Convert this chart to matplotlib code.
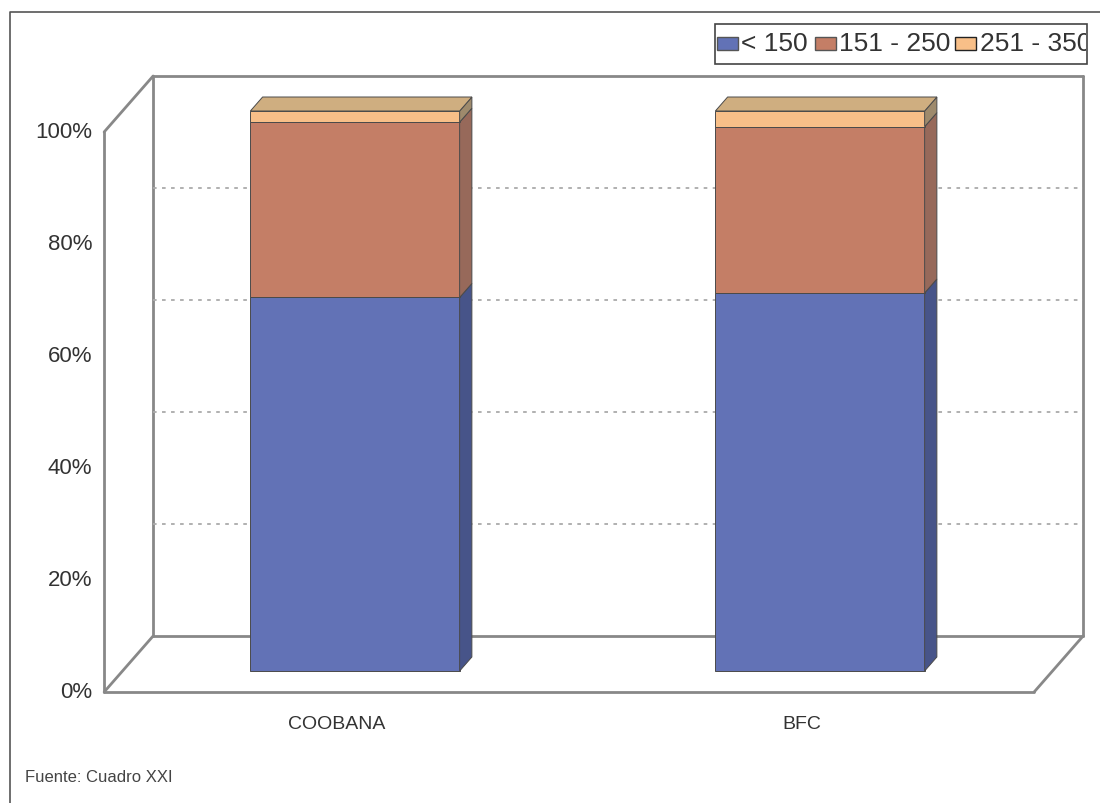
import matplotlib
matplotlib.use("Agg")
import matplotlib.pyplot as plt
from matplotlib.patches import Polygon, Rectangle
from matplotlib.transforms import Bbox, TransformedBbox

plt.rcParams['font.family'] = ['Liberation Sans', 'DejaVu Sans']

# data (percent of each category)
categories = ["COOBANA", "BFC"]
series_names = ["< 150", "151 - 250", "251 - 350"]
lt_150 = [66.7, 67.5]
r151_250 = [31.3, 29.7]
r251_350 = [2.0, 2.8]
y_ticks = [0, 20, 40, 60, 80, 100]
y_tick_labels = ["0%", "20%", "40%", "60%", "80%", "100%"]
source_note = "Fuente: Cuadro XXI"

series = [lt_150, r151_250, r251_350]
front_cols = ["#6272b6", "#c47e66", "#f8bf88"]
side_cols = ["#475489", "#97695a", "#9e8a6c"]
top_cols = ["#7d8cc8", "#d49b85", "#cfae80"]
line_col = "#888888"

# 3d look: bar plane sits at depth 0.375..0.625 of the floor
DX = 49 / 465.0   # x shift of a full depth, in category units
DY = 10.0         # y shift of a full depth, in percent units
BAR_D0, BAR_D1 = 0.375, 0.625
bar_w = 0.45


def proj(x, v, depth):
    return x + (depth - BAR_D0) * DX, v + (depth - BAR_D0) * DY


fig = plt.figure(figsize=(11, 8.04), dpi=100)
ax = fig.add_axes([0, 0, 1, 1])
ax.set_xlim(-355 / 465.0, 745 / 465.0)
ax.set_ylim((672 - 804) / 5.6, 672 / 5.6)
ax.axis('off')

# walls and floor
xl, xr = -0.5, len(categories) - 0.5
edges = [
    [(xl, 0, 0), (xl, 100, 0)],
    [(xl, 100, 0), (xl, 100, 1)],
    [(xl, 0, 0), (xl, 0, 1)],
    [(xl, 0, 1), (xl, 100, 1)],
    [(xl, 100, 1), (xr, 100, 1)],
    [(xr, 0, 1), (xr, 100, 1)],
    [(xl, 0, 1), (xr, 0, 1)],
    [(xl, 0, 0), (xr, 0, 0)],
    [(xr, 0, 0), (xr, 0, 1)],
]
for a, b in edges:
    pa, pb = proj(*a), proj(*b)
    ax.plot([pa[0], pb[0]], [pa[1], pb[1]], color=line_col, lw=2, zorder=1,
            solid_capstyle='round')

for t in y_ticks[1:-1]:
    pa, pb = proj(xl, t, 1), proj(xr, t, 1)
    ax.plot([pa[0], pb[0]], [pa[1], pb[1]], color="#aaaaaa", lw=1.3,
            ls=(0, (2, 3)), zorder=1)

# stacked bars
xs = list(range(len(categories)))
bottoms = [0.0] * len(categories)
ddx, ddy = (BAR_D1 - BAR_D0) * DX, (BAR_D1 - BAR_D0) * DY
for s, vals in enumerate(series):
    ax.bar(xs, vals, bottom=bottoms, width=bar_w, color=front_cols[s],
           edgecolor="#4a4a4a", linewidth=0.7, zorder=3)
    for i, x in enumerate(xs):
        b, h = bottoms[i], vals[i]
        xe = x + bar_w / 2
        side = [(xe, b), (xe + ddx, b + ddy), (xe + ddx, b + h + ddy), (xe, b + h)]
        ax.add_patch(Polygon(side, closed=True, facecolor=side_cols[s],
                             edgecolor="#4a4a4a", lw=0.7, zorder=3))
    bottoms = [bottoms[i] + vals[i] for i in range(len(categories))]

for i, x in enumerate(xs):
    top = bottoms[i]
    x0, x1 = x - bar_w / 2, x + bar_w / 2
    lid = [(x0, top), (x1, top), (x1 + ddx, top + ddy), (x0 + ddx, top + ddy)]
    ax.add_patch(Polygon(lid, closed=True, facecolor=top_cols[-1],
                         edgecolor="#4a4a4a", lw=0.7, zorder=4))

# axis labels on the front plane
for t, lab in zip(y_ticks, y_tick_labels):
    px, py = proj(xl, t, 0)
    ax.text(px - 0.025, py, lab, ha='right', va='center', fontsize=16,
            color="#333333")

for x, lab in zip(xs, categories):
    px, py = proj(x, 0, 0)
    ax.text(px, py - 5.7, lab, ha='center', va='center', fontsize=14,
            color="#333333")

# overlay in pixel units: frame, legend, source
ov = fig.add_axes([0, 0, 1, 1], zorder=5)
ov.set_xlim(0, 1100)
ov.set_ylim(804, 0)
ov.axis('off')
ov.patch.set_alpha(0)

ov.plot([10, 10, 1100], [804, 13, 13], color="#555555", lw=1.2)

lbox = Rectangle((715, 25), 372, 40, facecolor='white', edgecolor="#444444", lw=1.2)
ov.add_patch(lbox)
clip_bb = TransformedBbox(Bbox([[715, 25], [1086, 65]]), ov.transData)
sw_x = [717, 815, 955]
tx_x = [741, 839, 980]
for s, name in enumerate(series_names):
    ov.add_patch(Rectangle((sw_x[s], 38), 21, 13, facecolor=front_cols[s],
                           edgecolor="#555555" if s < 2 else "#222222", lw=1))
    t = ov.text(tx_x[s], 44, name, ha='left', va='center', fontsize=19,
                color="#333333")
    t.set_clip_box(clip_bb)
    t.set_clip_on(True)

ov.text(25, 778, source_note, ha='left', va='center', fontsize=12,
        color="#444444")

fig.savefig("out.png", dpi=100)
